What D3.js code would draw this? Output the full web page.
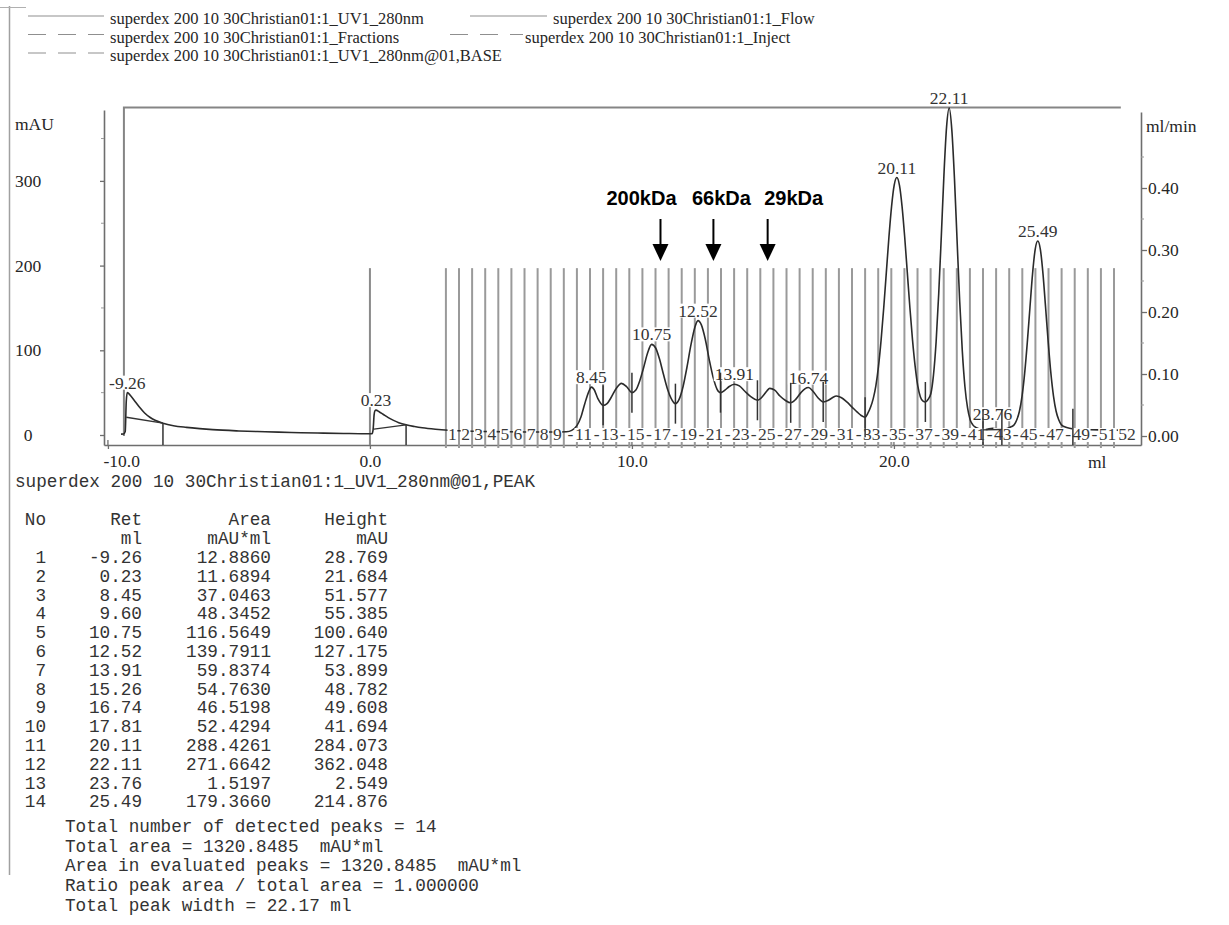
<!DOCTYPE html>
<html>
<head>
<meta charset="utf-8">
<script src="https://cdn.jsdelivr.net/npm/d3@7/dist/d3.min.js"></script>
<style>
  body { margin: 0; background: #fff; }
  svg { display: block; }
  text { white-space: pre; }
</style>
</head>
<body>
<svg id="chart" width="1229" height="925"></svg>
<script>
// ---- UV 280 nm trace: [elution volume (ml), absorbance (mAU)] ----
const uvTrace = [
  [-9.50,1.0],[-9.40,1.2],[-9.34,4],[-9.30,40],[-9.26,50],[-9.15,47],[-9.00,41],[-8.80,33],
  [-8.60,26],[-8.40,21],[-8.20,17.5],[-7.90,14],[-7.50,11],[-7.00,9],[-6.50,7.5],[-6.00,6.3],
  [-5.00,4.8],[-4.00,3.8],[-3.00,3.0],[-2.00,2.3],[-1.00,1.8],[-0.20,1.5],[0.08,1.5],[0.12,6],
  [0.16,24],[0.19,28.5],[0.23,29.4],[0.35,27.5],[0.50,24.5],[0.70,20.5],[0.90,17.3],[1.10,14.6],
  [1.38,12],[1.70,10],[2.00,8.5],[2.50,6.8],[3.00,5.6],[4.00,4.4],[5.00,3.9],[6.00,3.6],
  [7.00,3.5],[7.50,3.9],[7.70,5.5],[7.90,11],[8.05,21],[8.20,37],[8.35,51],[8.45,56.5],
  [8.55,54],[8.70,43],[8.90,35],[9.05,37],[9.20,44],[9.40,55],[9.60,61],[9.80,57],
  [10.00,50],[10.15,53],[10.30,64],[10.45,80],[10.60,97],[10.75,107],[10.90,103],[11.05,90],
  [11.20,72],[11.35,55],[11.50,43],[11.66,37],[11.80,42],[11.95,57],[12.10,80],[12.25,106],
  [12.40,127],[12.52,135],[12.65,130],[12.80,113],[12.95,89],[13.10,68],[13.25,54],[13.38,50],
  [13.55,53],[13.70,57],[13.91,60],[14.10,58],[14.30,52],[14.55,45],[14.79,41],[15.00,46],
  [15.15,52],[15.26,55],[15.45,53],[15.65,46],[15.85,41],[16.06,38],[16.25,42],[16.45,50],
  [16.60,54.5],[16.74,56],[16.90,52],[17.10,44],[17.30,39],[17.50,41],[17.65,44],[17.81,46],
  [18.00,44],[18.20,39],[18.40,33],[18.60,27],[18.75,23],[18.90,21],[19.01,26],[19.11,33],
  [19.21,43],[19.31,58],[19.41,81],[19.51,112],[19.61,150],[19.71,192],[19.81,234],[19.91,270],
  [20.01,295],[20.11,304],[20.21,295],[20.31,270],[20.41,234],[20.51,192],[20.61,150],[20.71,112],
  [20.81,81],[20.91,58],[21.01,45],[21.11,40],[21.20,39],[21.30,42],[21.41,49],[21.51,71],
  [21.61,110],[21.71,167],[21.81,236],[21.91,308],[22.01,364],[22.11,386],[22.21,360],[22.31,303],
  [22.41,230],[22.51,158],[22.61,99],[22.71,57],[22.81,32],[22.91,18],[23.01,12],[23.15,8.5],
  [23.30,7],[23.50,6.5],[23.76,8],[24.00,6.5],[24.20,7],[24.35,8],[24.49,10],[24.59,12],
  [24.69,18],[24.79,28],[24.89,46],[24.99,73],[25.09,109],[25.19,150],[25.29,190],[25.39,219],
  [25.49,229],[25.59,219],[25.69,190],[25.79,150],[25.89,109],[25.99,73],[26.09,46],[26.19,28],
  [26.29,18],[26.39,12],[26.49,10],[26.70,8],[26.90,7],[27.30,6.5],[28.00,6],[28.90,5.5]
];

// ---- peak integration baseline pieces (ml, mAU) ----
const baseSegments = [
  [[-9.30,21],[-7.90,14]],
  [[0.15,7],[1.38,12]],
  [[23.40,6],[24.12,6.5]]
];

// ---- flow rate trace (ml, ml/min) ----
const flowTrace = [[-9.39,0],[-9.39,0.53],[28.66,0.53]];

// ---- injection and fraction marks (ml) ----
const injectMarks = [0.0];
const fractionStarts = [
  2.9,3.4,3.9,4.4,4.9,5.4,5.9,6.4,6.9,7.4,7.9,8.4,8.9,9.4,9.9,10.4,10.9,11.4,11.9,12.4,
  12.9,13.4,13.9,14.4,14.9,15.4,15.9,16.4,16.9,17.4,17.9,18.4,18.9,19.4,19.9,20.4,20.9,21.4,
  21.9,22.4,22.9,23.4,23.9,24.4,24.9,25.4,25.9,26.4,26.9,27.4,27.9,28.4
];

// ---- peak boundaries (ml) ----
const dropLines = [-7.90, 1.38];
const splitMarks = [8.90,10.00,11.66,13.38,14.79,16.06,17.30,18.90,21.20,23.40,24.12,26.83];

// ---- peak table ----
const peakNo     = [1,2,3,4,5,6,7,8,9,10,11,12,13,14];
const peakRet    = [-9.26,0.23,8.45,9.60,10.75,12.52,13.91,15.26,16.74,17.81,20.11,22.11,23.76,25.49];
const peakArea   = [12.8860,11.6894,37.0463,48.3452,116.5649,139.7911,59.8374,54.7630,46.5198,52.4294,288.4261,271.6642,1.5197,179.3660];
const peakHeight = [28.769,21.684,51.577,55.385,100.640,127.175,53.899,48.782,49.608,41.694,284.073,362.048,2.549,214.876];
const labelledPeaks = [-9.26,0.23,8.45,10.75,12.52,13.91,16.74,20.11,22.11,23.76,25.49];
const totalPeakWidth = 22.17;

// ---- molecular-weight standards ----
const standardNames = ["200kDa","66kDa","29kDa"];
const standardVolumes = [11.09,13.11,15.18];

// ---- axis ticks ----
const leftTicks = [0,100,200,300];
const leftMinorTicks = [50,150,250,350];
const rightTicks = [0,0.1,0.2,0.3,0.4];
const rightMinorTicks = [0.05,0.15,0.25,0.35,0.45];
const xTicks = [-10,0,10,20];

// ---- legend ----
const legendNames = [
  "superdex 200 10 30Christian01:1_UV1_280nm",
  "superdex 200 10 30Christian01:1_Flow",
  "superdex 200 10 30Christian01:1_Fractions",
  "superdex 200 10 30Christian01:1_Inject",
  "superdex 200 10 30Christian01:1_UV1_280nm@01,BASE"
];

// ================= drawing =================
const SERIF = "'Liberation Serif','Times New Roman',serif";
const MONO  = "'Liberation Mono','Courier New',monospace";
const SANS  = "'Liberation Sans',Arial,sans-serif";
const INK = "#262626";
const AXIS = "#6e6e6e";
const MARK_TOP = 197;          // height of fraction / inject marks, in mAU

const svg = d3.select("#chart");
svg.append("rect").attr("width",1229).attr("height",925).attr("fill","#fff");

// page border
svg.append("line").attr("x1",9.5).attr("x2",9.5).attr("y1",6).attr("y2",875)
  .attr("stroke","#a0a0a0").attr("stroke-width",1.5);
svg.append("line").attr("x1",0).attr("x2",26).attr("y1",7.5).attr("y2",7.5)
  .attr("stroke","#b0b0b0").attr("stroke-width",1);

// legend
const legendLayout = [
  {x1:28, x2:104, tx:110, y:24,   dash:null},
  {x1:470,x2:547, tx:553, y:24,   dash:null},
  {x1:28, x2:104, tx:110, y:42.5, dash:"18,12"},
  {x1:450,x2:523, tx:525, y:42.5, dash:"18,12"},
  {x1:28, x2:104, tx:110, y:61,   dash:"18,12"}
];
legendNames.forEach((name,i) => {
  const L = legendLayout[i];
  svg.append("line").attr("x1",L.x1).attr("x2",L.x2).attr("y1",L.y-8).attr("y2",L.y-8)
    .attr("stroke","#8f8f8f").attr("stroke-width",1.2)
    .attr("stroke-dasharray",L.dash);
  svg.append("text").attr("x",L.tx).attr("y",L.y).text(name)
    .attr("font-family",SERIF).attr("font-size",16.5).attr("fill",INK);
});

// scales
const x  = d3.scaleLinear().domain([-10.15, 29.43]).range([104, 1141]);
const yL = d3.scaleLinear().domain([-11.8, 383.7]).range([445, 110]);
const yR = d3.scaleLinear().domain([-0.0145, 0.5226]).range([445, 112]);

const styleAxis = g => {
  g.attr("font-family",SERIF).attr("font-size",17.5);
  g.selectAll("path.domain").attr("stroke",AXIS).attr("stroke-width",1.6);
  g.selectAll(".tick line").attr("stroke",AXIS).attr("stroke-width",1.3);
  g.selectAll(".tick text").attr("fill",INK);
};

// left axis (mAU)
const gL = svg.append("g").attr("transform","translate(104,0)")
  .call(d3.axisLeft(yL).tickValues(leftTicks).tickSize(4).tickSizeOuter(0).tickFormat(d => String(d)))
  .call(styleAxis);
gL.selectAll(".tick text").attr("x",28-104).attr("text-anchor","middle");
gL.selectAll(".minor").data(leftMinorTicks).join("line").attr("class","minor")
  .attr("x1",-3).attr("x2",0).attr("y1",d=>yL(d)).attr("y2",d=>yL(d))
  .attr("stroke","#999").attr("stroke-width",1);
svg.append("text").attr("x",15).attr("y",130).text("mAU")
  .attr("font-family",SERIF).attr("font-size",17.5).attr("fill",INK);

// right axis (ml/min)
const gR = svg.append("g").attr("transform","translate(1141,0)")
  .call(d3.axisRight(yR).tickValues(rightTicks).tickSize(6).tickPadding(1).tickSizeOuter(0)
    .tickFormat(d => d.toFixed(2)))
  .call(styleAxis);
gR.selectAll(".minor").data(rightMinorTicks).join("line").attr("class","minor")
  .attr("x1",0).attr("x2",3).attr("y1",d=>yR(d)).attr("y2",d=>yR(d))
  .attr("stroke","#999").attr("stroke-width",1);
svg.append("text").attr("x",1146).attr("y",132).text("ml/min")
  .attr("font-family",SERIF).attr("font-size",17.5).attr("fill",INK);

// bottom axis (ml)
const gB = svg.append("g").attr("transform","translate(0,445)")
  .call(d3.axisBottom(x).tickValues(xTicks).tickSize(4).tickPadding(6).tickSizeOuter(0)
    .tickFormat(d => d.toFixed(1)))
  .call(styleAxis);
gB.selectAll(".tick").filter(d => d === xTicks[0]).select("text")
  .attr("text-anchor","start").attr("x",-5);
gB.selectAll(".up").data(xTicks).join("line").attr("class","up")
  .attr("x1",d=>x(d)).attr("x2",d=>x(d)).attr("y1",-5).attr("y2",0)
  .attr("stroke",AXIS).attr("stroke-width",1.3);
svg.append("text").attr("x",1088).attr("y",468).text("ml")
  .attr("font-family",SERIF).attr("font-size",17.5).attr("fill",INK);

// fraction and injection marks
const marks = svg.append("g");
marks.selectAll(".frac").data(fractionStarts).join("line").attr("class","frac")
  .attr("x1",d=>x(d)).attr("x2",d=>x(d)).attr("y1",yL(MARK_TOP)).attr("y2",448)
  .attr("stroke","#9a9a9a").attr("stroke-width",2);
marks.selectAll(".inj").data(injectMarks).join("line").attr("class","inj")
  .attr("x1",d=>x(d)).attr("x2",d=>x(d)).attr("y1",yL(MARK_TOP)).attr("y2",445)
  .attr("stroke","#8a8a8a").attr("stroke-width",2);

// flow rate
svg.append("path").datum(flowTrace)
  .attr("d", d3.line().x(d=>x(d[0])).y(d=>yR(d[1])))
  .attr("fill","none").attr("stroke","#858585").attr("stroke-width",2);

// UV trace
svg.append("path").datum(uvTrace)
  .attr("d", d3.line().x(d=>x(d[0])).y(d=>yL(d[1])).curve(d3.curveMonotoneX))
  .attr("fill","none").attr("stroke","#2b2b2b").attr("stroke-width",1.6);

// fraction numbers (the last one sits past its start mark)
const fracLabels = svg.append("g").attr("font-family",SERIF).attr("font-size",17.5).attr("fill","#3a3a3a");
fractionStarts.forEach((s,i) => {
  const n = i + 1;
  const isLast = i === fractionStarts.length - 1;
  const label = (n <= 9 || n % 2 === 1 || isLast) ? String(n) : "-";
  const cx = x(s + (isLast ? 0.5 : 0.25));
  const t = fracLabels.append("text").attr("x",cx).attr("y",440).attr("text-anchor","middle").text(label);
  if (label !== "-") {
    const w = t.node().getComputedTextLength();
    fracLabels.insert("rect","text:last-child")
      .attr("x",cx - w/2 - 0.5).attr("y",428).attr("width",w + 1).attr("height",14).attr("fill","#fff");
  }
});

// value of the trace at a volume
const bis = d3.bisector(d => d[0]).left;
function uvAt(v) {
  const i = Math.max(1, Math.min(uvTrace.length - 1, bis(uvTrace, v)));
  const a = uvTrace[i-1], b = uvTrace[i];
  const t = (v - a[0]) / (b[0] - a[0]);
  return a[1] + t * (b[1] - a[1]);
}

// peak retention labels (the tiny 23.76 peak label is lifted clear of the fraction numbers)
const peakLabels = svg.append("g").attr("font-family",SERIF).attr("font-size",17.5).attr("fill","#333");
labelledPeaks.forEach(r => {
  const px = x(r), py = yL(uvAt(r)) - (uvAt(r) < 15 ? 8 : 4);
  const t = peakLabels.append("text").attr("x",px).attr("y",py).attr("text-anchor","middle").text(r.toFixed(2));
  const w = t.node().getComputedTextLength();
  peakLabels.insert("rect","text:last-child")
    .attr("x",px - w/2 - 1).attr("y",py - 13).attr("width",w + 2).attr("height",14).attr("fill","#fff");
});

// peak baseline pieces
svg.selectAll(".base").data(baseSegments).join("path").attr("class","base")
  .attr("d", d3.line().x(d=>x(d[0])).y(d=>yL(d[1])))
  .attr("fill","none").attr("stroke","#333").attr("stroke-width",1.4);

// peak boundary marks
svg.selectAll(".drop").data(dropLines).join("line").attr("class","drop")
  .attr("x1",d=>x(d)).attr("x2",d=>x(d)).attr("y1",d=>yL(uvAt(d))).attr("y2",445)
  .attr("stroke","#333").attr("stroke-width",1.5);
svg.selectAll(".split").data(splitMarks).join("line").attr("class","split")
  .attr("x1",d=>x(d)).attr("x2",d=>x(d))
  .attr("y1",d=>yL(uvAt(d)) - 20).attr("y2",d=>Math.min(445, yL(uvAt(d)) + 20))
  .attr("stroke","#333").attr("stroke-width",1.5);

// molecular-weight standards
const stdDx = [-19, 8, 26];
standardVolumes.forEach((v,i) => {
  const ax = x(v);
  svg.append("line").attr("x1",ax).attr("x2",ax).attr("y1",219).attr("y2",246)
    .attr("stroke","#000").attr("stroke-width",2);
  svg.append("path").attr("d",`M${ax-8},244L${ax+8},244L${ax},261Z`).attr("fill","#000");
  svg.append("text").attr("x",ax + stdDx[i]).attr("y",205).attr("text-anchor","middle")
    .attr("font-family",SANS).attr("font-weight","bold").attr("font-size",20).attr("fill","#000")
    .text(standardNames[i]);
});

// ================= peak table =================
const tbl = svg.append("g").attr("font-family",MONO).attr("font-size",17.7).attr("fill","#333");
tbl.append("text").attr("x",15).attr("y",487).text("superdex 200 10 30Christian01:1_UV1_280nm@01,PEAK");
const colRight = [46, 142, 271, 388];
const head1 = ["No","Ret","Area","Height"];
const head2 = ["","ml","mAU*ml","mAU"];
head1.forEach((h,j) => tbl.append("text").attr("x",colRight[j]).attr("y",525).attr("text-anchor","end").text(h));
head2.forEach((h,j) => tbl.append("text").attr("x",colRight[j]).attr("y",544).attr("text-anchor","end").text(h));
peakNo.forEach((n,i) => {
  const y = 563 + i * 18.8;
  const cells = [String(n), peakRet[i].toFixed(2), peakArea[i].toFixed(4), peakHeight[i].toFixed(3)];
  cells.forEach((c,j) => tbl.append("text").attr("x",colRight[j]).attr("y",y).attr("text-anchor","end").text(c));
});
const totalArea = d3.sum(peakArea);
const summary = [
  `Total number of detected peaks = ${peakNo.length}`,
  `Total area = ${totalArea.toFixed(4)}  mAU*ml`,
  `Area in evaluated peaks = ${totalArea.toFixed(4)}  mAU*ml`,
  `Ratio peak area / total area = ${(totalArea/totalArea).toFixed(6)}`,
  `Total peak width = ${totalPeakWidth.toFixed(2)} ml`
];
summary.forEach((s,i) => tbl.append("text").attr("x",65).attr("y",832 + i * 19.7).text(s));
</script>
</body>
</html>
